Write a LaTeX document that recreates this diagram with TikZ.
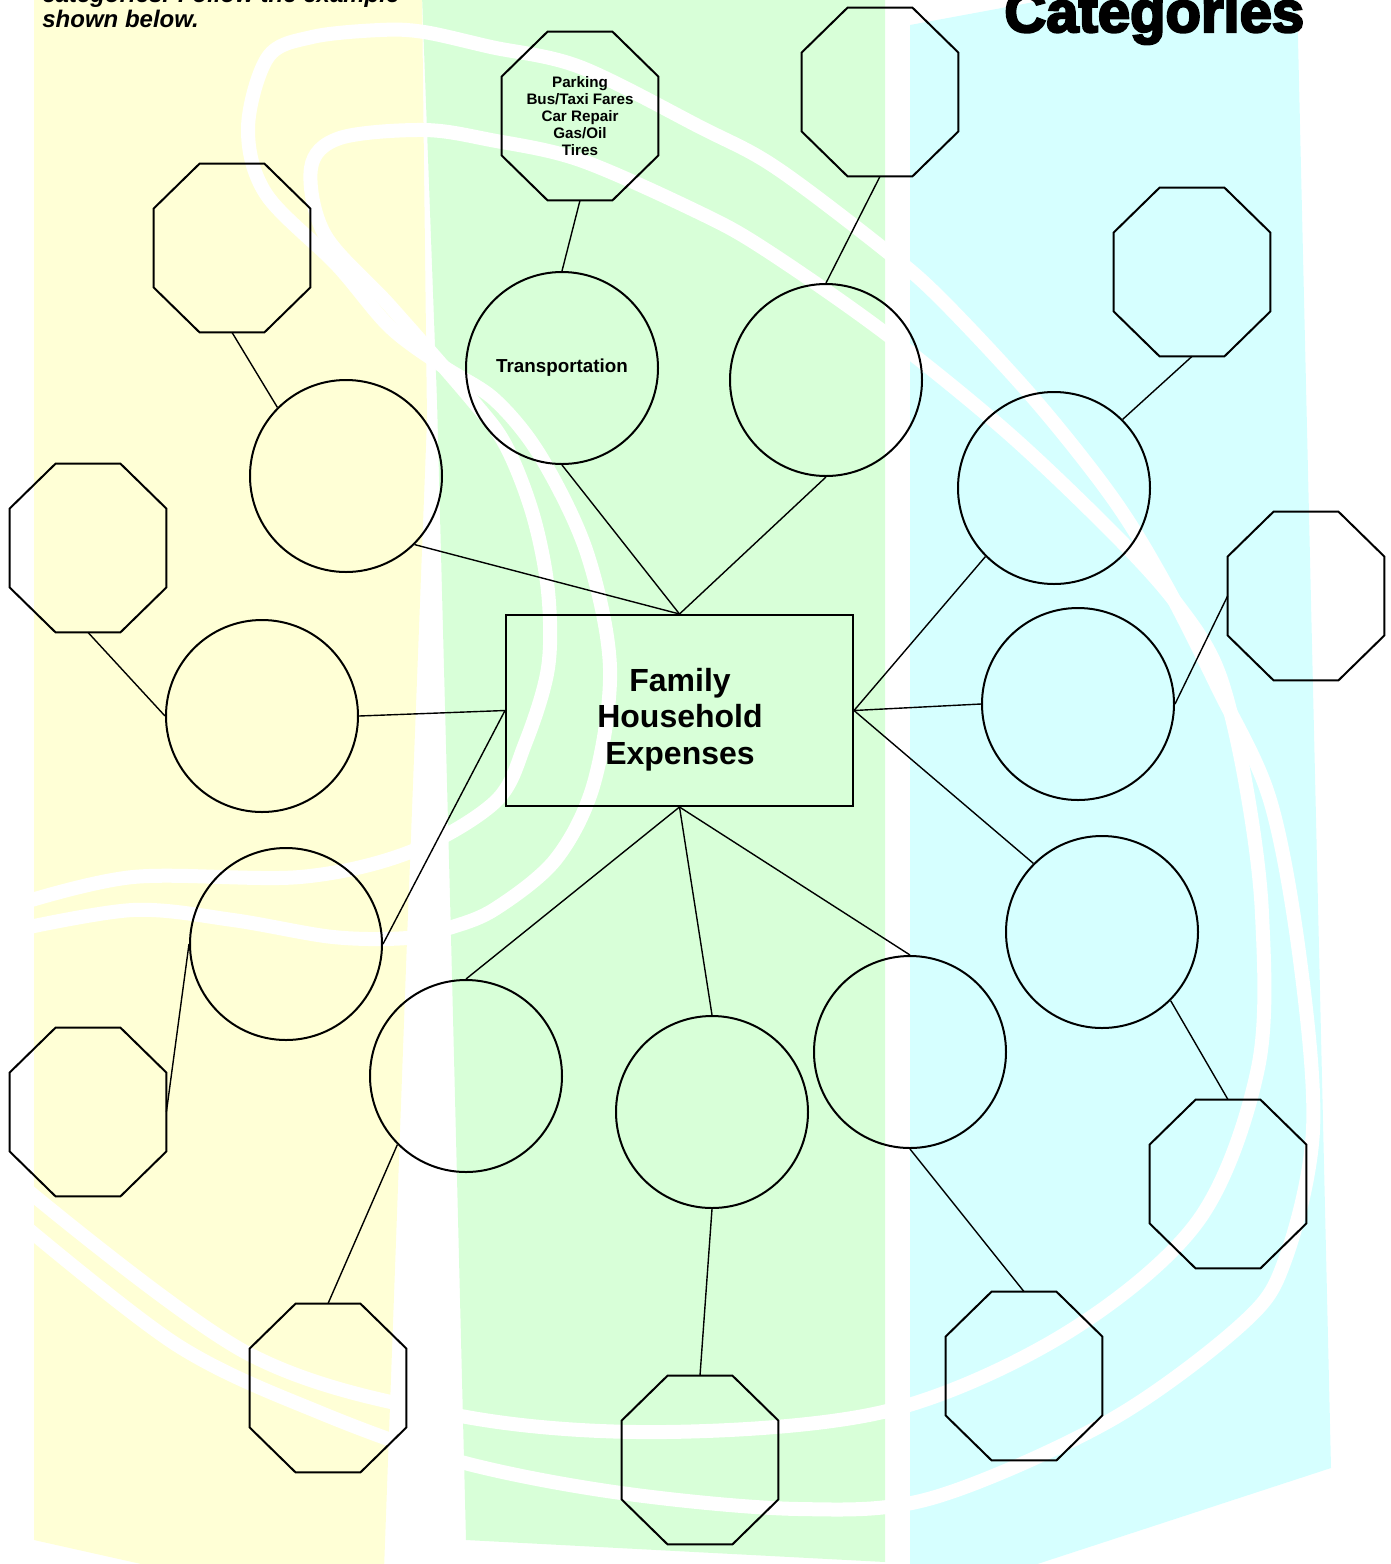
\documentclass[tikz,border=0pt]{standalone}
\usepackage{fontspec}
\setmainfont{Liberation Sans}
\newfontfamily\heavyfont{Liberation Sans}[BoldFeatures={FakeBold=4}]

\definecolor{PanelYellow}{RGB}{255,255,214}
\definecolor{PanelGreen}{RGB}{216,255,216}
\definecolor{PanelCyan}{RGB}{214,255,255}

% octagon = empty box node + its outline
\newcommand{\OctVertex}[3]{%
  \node[OctStyle] (#1) at (#2) {#3};
  \draw[OctLine] ([xshift=23pt]#1.north west) -- ([xshift=-23pt]#1.north east)
    -- ([yshift=-22.5pt]#1.north east) -- ([yshift=22.5pt]#1.south east)
    -- ([xshift=-23pt]#1.south east) -- ([xshift=23pt]#1.south west)
    -- ([yshift=22.5pt]#1.south west) -- ([yshift=-22.5pt]#1.north west) -- cycle;}

\begin{document}
\begin{tikzpicture}[x=0.5pt,y=-0.5pt]

\tikzset{VertexStyle/.style = {circle, draw, line width=1pt, minimum size=96pt,
                               inner sep=0pt, font=\bfseries\fontsize{9.4}{11}\selectfont},
         OctStyle/.style    = {rectangle, minimum width=78pt, minimum height=84pt,
                               inner sep=0pt, align=center,
                               font=\bfseries\fontsize{7.6}{8.5}\selectfont},
         OctLine/.style     = {line width=1pt},
         HubStyle/.style    = {rectangle, draw, line width=1pt,
                               minimum width=173.5pt, minimum height=95.5pt},
         HubText/.style     = {align=center, inner sep=0pt,
                               font=\bfseries\fontsize{16}{18.25}\selectfont},
         EdgeStyle/.style   = {line width=0.7pt},
         SwirlStyle/.style  = {white, line width=7pt}}

  \useasboundingbox (0,0) rectangle (1391,1564);
  \clip (0,0) rectangle (1391,1564);

%%% background panels and swirls
  \fill[PanelYellow] (34,-5) -- (422,-5) -- (427,420) -- (407,940) -- (384,1570)
        -- (168,1570) -- (34,1540) -- cycle;
  \fill[PanelGreen] (422,-5) -- (885,-5) -- (885,1562) -- (466,1540)
        -- (451,936) -- (437,400) -- cycle;
  \fill[PanelCyan] (910,25) -- (1072,-5) -- (1297,-5) -- (1331,1468)
        -- (1019,1570) -- (910,1570) -- cycle;

  \draw[SwirlStyle] plot[smooth, tension=0.55] coordinates {(15,905) (133,877)
        (300,877) (410,852) (495,802) (525,744) (548,668) (548,591) (533,515)
        (506,446) (472,400) (390,306) (325,235) (311,168) (340,138) (424,130)
        (491,140) (580,160) (700,213) (766,250) (885,333) (1008,433) (1116,536)
        (1177,604) (1218,671) (1245,780) (1262,914) (1258,1068) (1198,1221)
        (1065,1334) (887,1411) (665,1432) (461,1416) (247,1353) (15,1180)};
  \draw[SwirlStyle] plot[smooth, tension=0.55] coordinates {(15,930) (133,910)
        (233,920) (333,937) (407,938) (449,928) (495,909) (556,859) (594,783)
        (610,668) (587,553) (541,457) (495,400) (444,367) (390,327) (337,265)
        (266,194) (248,128) (268,57) (312,37) (380,30) (424,32) (491,47)
        (580,67) (700,127) (775,167) (885,250) (942,300) (1035,400) (1114,500)
        (1167,587) (1218,688) (1270,800) (1300,960) (1313,1130) (1285,1260)
        (1242,1324) (1109,1421) (932,1498) (799,1509) (621,1493) (461,1462)
        (321,1413) (177,1345) (15,1218)};

%%% texts at the top
  \node[anchor=south west, inner sep=0pt, align=left,
        font=\bfseries\itshape\fontsize{12}{12.5}\selectfont] (Intro) at (42,28)
        {categories. Follow the example\\shown below.};
  \node[anchor=base west, inner sep=0pt,
        font=\heavyfont\bfseries\fontsize{29}{30}\selectfont] (Title) at (1004,32)
        {Categories};

%%% centre
   \node[HubStyle] (Home) at (679.5,710.5) {};
   \node[HubText] (HomeText) at (680,719.5) {Family\\Household\\Expenses};

%%% circles
   \node[VertexStyle] (C1) at (562,368) {Transportation};
   \node[VertexStyle] (C2) at (826,380) {};
   \node[VertexStyle] (C3) at (346,476) {};
   \node[VertexStyle] (C4) at (262,716) {};
   \node[VertexStyle] (C5) at (286,944) {};
   \node[VertexStyle] (C6) at (466,1076) {};
   \node[VertexStyle] (C7) at (712,1112) {};
   \node[VertexStyle] (C8) at (910,1052) {};
   \node[VertexStyle] (C9) at (1054,488) {};
   \node[VertexStyle] (C10) at (1078,704) {};
   \node[VertexStyle] (C11) at (1102,932) {};

%%% octagons
   \OctVertex{O1}{580,116}{Parking\\Bus/Taxi Fares\\Car Repair\\Gas/Oil\\Tires}
   \OctVertex{O2}{880,92}{}
   \OctVertex{O3}{232,248}{}
   \OctVertex{O4}{88,548}{}
   \OctVertex{O5}{88,1112}{}
   \OctVertex{O6}{328,1388}{}
   \OctVertex{O7}{700,1460}{}
   \OctVertex{O8}{1024,1376}{}
   \OctVertex{O9}{1192,272}{}
   \OctVertex{O10}{1306,596}{}
   \OctVertex{O11}{1228,1184}{}

%%% connectors
  \draw[EdgeStyle] (O1.south) -- (C1.north);
  \draw[EdgeStyle] (C1.south) -- (Home.north);
  \draw[EdgeStyle] (O2.south) -- (C2.north);
  \draw[EdgeStyle] (C2.south) -- (Home.north);
  \draw[EdgeStyle] (O3.south) -- (C3.north west);
  \draw[EdgeStyle] (C3.south east) -- (Home.north);
  \draw[EdgeStyle] (O4.south) -- (C4.west);
  \draw[EdgeStyle] (C4.east) -- (Home.west);
  \draw[EdgeStyle] (C5.east) -- (Home.west);
  \draw[EdgeStyle] (C5.west) -- (O5.east);
  \draw[EdgeStyle] (C6.north) -- (Home.south);
  \draw[EdgeStyle] (C6.south west) -- (O6.north);
  \draw[EdgeStyle] (C7.north) -- (Home.south);
  \draw[EdgeStyle] (C7.south) -- (O7.north);
  \draw[EdgeStyle] (C8.north) -- (Home.south);
  \draw[EdgeStyle] (C8.south) -- (O8.north);
  \draw[EdgeStyle] (C9.south west) -- (Home.east);
  \draw[EdgeStyle] (C9.north east) -- (O9.south);
  \draw[EdgeStyle] (C10.west) -- (Home.east);
  \draw[EdgeStyle] (C10.east) -- (O10.west);
  \draw[EdgeStyle] (C11.north west) -- (Home.east);
  \draw[EdgeStyle] (C11.south east) -- (O11.north);

\end{tikzpicture}
\end{document}
